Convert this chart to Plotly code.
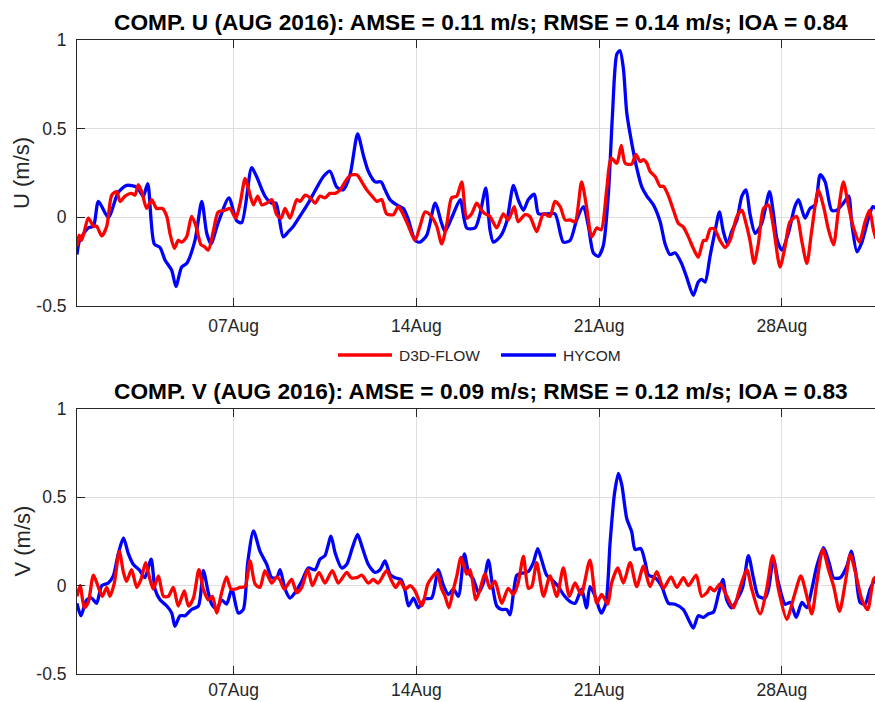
import pandas as pd
import plotly.graph_objects as go

# ---------------- data (day offsets from 2016-08-01 00:00) ----------------
u_hycom_day = [0.0, 0.1, 0.43, 0.63, 0.82, 1.2, 1.58, 1.9, 2.29, 2.54, 2.71, 2.96, 3.18, 3.37, 3.63, 3.79,
               4.01, 4.2, 4.52, 4.78, 4.97, 5.13, 5.41, 5.82, 6.12, 6.31, 6.69, 6.88, 7.2, 7.46, 7.62, 7.9,
               8.1, 8.29, 8.6, 8.86, 9.12, 9.44, 9.69, 9.95, 10.2, 10.46, 10.75, 10.97, 11.16, 11.42, 11.65,
               11.8, 11.99, 12.25, 12.5, 12.7, 12.95, 13.14, 13.4, 13.72, 13.97, 14.1, 14.42, 14.68, 14.93,
               15.25, 15.44, 15.66, 15.82, 15.95, 16.21, 16.46, 16.72, 16.9, 17.1, 17.29, 17.52, 17.68, 18.0,
               18.31, 18.63, 18.89, 19.14, 19.4, 19.59, 19.78, 19.97, 20.16, 20.36, 20.51, 20.68, 20.8, 20.93,
               21.06, 21.25, 21.44, 21.64, 21.83, 22.08, 22.34, 22.53, 22.72, 22.91, 23.16, 23.36, 23.61, 23.8,
               23.93, 24.06, 24.25, 24.44, 24.61, 24.76, 24.92, 25.08, 25.28, 25.47, 25.63, 25.78, 25.98, 26.23,
               26.53, 26.68, 26.81, 27.0, 27.25, 27.5, 27.64, 27.89, 28.08, 28.28, 28.47, 28.66, 28.91, 29.1,
               29.36, 29.56, 29.68, 29.88, 30.07, 30.32, 30.49, 30.6]
u_hycom_val = [-0.21, -0.13, -0.06, -0.05, 0.09, 0.0, 0.14, 0.18, 0.17, 0.12, 0.19, -0.15, -0.17, -0.24, -0.30, -0.39,
               -0.28, -0.26, -0.13, 0.09, -0.09, -0.15, -0.03, 0.11, -0.02, -0.03, 0.28, 0.23, 0.12, 0.08, 0.08, -0.11,
               -0.08, -0.05, 0.02, 0.08, 0.15, 0.23, 0.26, 0.17, 0.155, 0.24, 0.47, 0.35, 0.26, 0.20, 0.20,
               0.155, 0.10, 0.07, 0.05, -0.015, -0.13, -0.14, -0.10, 0.08, -0.035, -0.08, 0.02, 0.10, -0.06,
               -0.06, 0.02, 0.165, -0.07, -0.14, -0.11, -0.025, 0.18, 0.10, 0.04, 0.10, 0.13, 0.02, 0.02,
               0.02, -0.14, -0.13, -0.015, 0.06, -0.05, -0.20, -0.22, -0.16, 0.14, 0.57, 0.92, 0.94, 0.84,
               0.59, 0.42, 0.28, 0.17, 0.12, 0.07, -0.025, -0.15, -0.21, -0.20, -0.26, -0.34, -0.44, -0.365,
               -0.35, -0.365, -0.22, -0.08, 0.03, -0.08, -0.15, -0.08, -0.015, 0.12, 0.155, 0.02, -0.09, -0.035,
               0.145, 0.02, -0.12, -0.185, -0.09, 0.06, 0.10, -0.005, 0.05, 0.07, 0.24, 0.20, 0.04, 0.04,
               0.08, 0.12, -0.035, -0.195, -0.14, -0.005, 0.06, 0.05]

u_d3d_day = [0.0, 0.08, 0.18, 0.43, 0.63, 0.75, 0.95, 1.14, 1.33, 1.52, 1.65, 1.84, 2.09, 2.22, 2.35, 2.48,
             2.67, 2.86, 3.05, 3.27, 3.44, 3.56, 3.73, 3.88, 4.01, 4.2, 4.39, 4.55, 4.75, 4.88, 5.03, 5.22,
             5.41, 5.67, 5.86, 6.08, 6.25, 6.44, 6.56, 6.76, 6.92, 7.08, 7.27, 7.46, 7.65, 7.82, 7.97, 8.16,
             8.42, 8.55, 8.74, 8.93, 9.12, 9.31, 9.5, 9.69, 9.89, 10.08, 10.27, 10.46, 10.72, 10.91, 11.1,
             11.3, 11.49, 11.67, 11.86, 12.12, 12.31, 12.5, 12.7, 12.95, 13.14, 13.33, 13.52, 13.78, 13.97,
             14.17, 14.35, 14.55, 14.74, 14.93, 15.12, 15.31, 15.5, 15.63, 15.82, 16.08, 16.33, 16.52, 16.75,
             16.9, 17.16, 17.35, 17.61, 17.87, 18.12, 18.31, 18.51, 18.7, 18.89, 19.08, 19.33, 19.52, 19.72,
             19.91, 20.08, 20.29, 20.46, 20.68, 20.85, 21.0, 21.25, 21.41, 21.57, 21.7, 21.83, 21.95, 22.15,
             22.34, 22.47, 22.66, 22.85, 23.04, 23.23, 23.42, 23.61, 23.8, 24.0, 24.1, 24.26, 24.42, 24.63,
             24.83, 25.02, 25.28, 25.47, 25.63, 25.78, 25.94, 26.1, 26.3, 26.49, 26.68, 26.93, 27.12, 27.31,
             27.57, 27.76, 27.96, 28.15, 28.4, 28.6, 28.79, 28.98, 29.17, 29.36, 29.56, 29.74, 29.97, 30.19,
             30.36, 30.51, 30.6]
u_d3d_val = [-0.165, -0.10, -0.13, -0.005, -0.05, -0.05, -0.105, -0.05, 0.125, 0.145, 0.09, 0.12, 0.135, 0.125, 0.185, 0.145,
             0.05, 0.10, 0.05, 0.05, 0.005, -0.09, -0.175, -0.13, -0.14, -0.11, 0.005, -0.045, -0.155, -0.165, -0.185, -0.08,
             0.03, 0.04, 0.05, -0.005, 0.08, 0.22, 0.165, 0.07, 0.12, 0.07, 0.08, 0.10, 0.015, -0.005, 0.05, -0.005,
             0.10, 0.09, 0.125, 0.11, 0.08, 0.12, 0.11, 0.135, 0.135, 0.155, 0.20, 0.235, 0.24, 0.20, 0.155,
             0.12, 0.09, 0.10, 0.02, 0.015, 0.06, 0.015, -0.05, -0.13, -0.05, 0.03, 0.015, -0.05, -0.15,
             -0.035, 0.11, 0.12, 0.20, -0.005, 0.02, 0.08, 0.04, 0.02, 0.005, -0.06, 0.02, -0.015, 0.06,
             -0.025, 0.015, 0.005, -0.08, 0.02, 0.005, 0.09, 0.06, -0.015, -0.015, -0.025, 0.20, 0.06, -0.11,
             -0.06, -0.07, 0.155, 0.335, 0.305, 0.405, 0.305, 0.30, 0.355, 0.315, 0.325, 0.305, 0.26, 0.23,
             0.175, 0.175, 0.12, 0.04, -0.035, -0.055, -0.11, -0.175, -0.225, -0.13, -0.13, -0.065, -0.065, -0.13,
             -0.17, -0.13, 0.005, 0.04, -0.035, -0.13, -0.26, -0.15, 0.05, 0.07, -0.055, -0.28, -0.17, -0.025,
             0.005, -0.13, -0.26, -0.07, 0.155, 0.06, -0.07, -0.155, 0.04, 0.20, 0.06, -0.055, -0.14, -0.025,
             0.04, -0.07, -0.12]

v_hycom_day = [0.0, 0.15, 0.37, 0.56, 0.75, 0.95, 1.2, 1.39, 1.58, 1.78, 1.97, 2.16, 2.41, 2.6, 2.84, 2.99,
               3.18, 3.44, 3.63, 3.75, 3.95, 4.14, 4.39, 4.65, 4.84, 5.03, 5.16, 5.35, 5.54, 5.73, 5.93, 6.18,
               6.37, 6.54, 6.76, 7.01, 7.27, 7.46, 7.65, 7.78, 7.97, 8.16, 8.35, 8.61, 8.86, 9.12, 9.31, 9.5,
               9.73, 9.89, 10.14, 10.33, 10.55, 10.75, 10.93, 11.16, 11.42, 11.61, 11.8, 11.99, 12.18, 12.41,
               12.57, 12.7, 12.89, 13.08, 13.33, 13.59, 13.84, 14.04, 14.23, 14.42, 14.61, 14.84, 15.0, 15.19,
               15.38, 15.57, 15.76, 15.92, 16.08, 16.27, 16.46, 16.59, 16.72, 16.85, 17.04, 17.29, 17.48, 17.65,
               17.8, 17.99, 18.18, 18.44, 18.63, 18.89, 19.08, 19.33, 19.52, 19.65, 19.85, 20.08, 20.26, 20.42,
               20.59, 20.74, 20.87, 21.06, 21.25, 21.38, 21.6, 21.77, 21.89, 22.15, 22.4, 22.66, 22.91, 23.23,
               23.42, 23.61, 23.8, 23.99, 24.18, 24.38, 24.57, 24.74, 24.89, 25.08, 25.28, 25.5, 25.72, 25.91,
               26.1, 26.36, 26.49, 26.68, 26.87, 27.13, 27.32, 27.55, 27.77, 27.96, 28.15, 28.34, 28.6, 28.83,
               28.98, 29.24, 29.49, 29.66, 29.82, 30.0, 30.19, 30.38, 30.6]
v_hycom_val = [-0.10, -0.17, -0.08, -0.07, -0.10, 0.0, 0.015, 0.055, 0.18, 0.27, 0.18, 0.12, 0.085, 0.045, 0.15, -0.02,
               -0.08, -0.115, -0.155, -0.23, -0.17, -0.17, -0.135, -0.115, 0.085, -0.04, -0.105, -0.135, -0.08, -0.105, -0.02, -0.155,
               -0.135, 0.13, 0.31, 0.195, 0.12, 0.045, 0.045, 0.09, -0.02, -0.07, -0.04, 0.025, 0.10, 0.09, 0.15, 0.17,
               0.28, 0.185, 0.10, 0.12, 0.215, 0.29, 0.215, 0.12, 0.075, 0.09, 0.14, 0.065, 0.045, 0.035,
               -0.03, -0.115, -0.07, -0.125, -0.075, -0.07, 0.09, 0.0, -0.05, -0.02, -0.06, 0.18, 0.075, 0.035,
               -0.04, 0.015, 0.145, -0.005, -0.115, -0.135, -0.135, -0.165, -0.04, 0.06, 0.07, 0.08, 0.13, 0.21,
               0.145, 0.06, 0.035, -0.005, -0.05, -0.09, -0.10, -0.02, -0.125, -0.005, -0.06, -0.155, -0.10, 0.24,
               0.52, 0.635, 0.57, 0.38, 0.305, 0.205, 0.21, 0.13, 0.06, 0.045, -0.005, -0.10, -0.105, -0.135,
               -0.19, -0.24, -0.17, -0.18, -0.16, -0.15, -0.05, 0.035, -0.08, -0.125, -0.08, -0.01, 0.17, 0.045,
               -0.06, -0.07, -0.02, 0.15, 0.015, -0.105, -0.095, -0.18, -0.095, -0.125, -0.02, 0.11, 0.215, 0.12,
               0.045, 0.045, 0.11, 0.195, 0.085, -0.095, -0.105, -0.02, 0.045]

v_d3d_day = [0.0, 0.12, 0.28, 0.43, 0.63, 0.82, 0.97, 1.14, 1.26, 1.43, 1.62, 1.78, 1.9, 2.09, 2.29, 2.45,
             2.63, 2.76, 2.92, 3.12, 3.31, 3.5, 3.69, 3.88, 4.11, 4.27, 4.46, 4.67, 4.84, 5.03, 5.19, 5.35,
             5.54, 5.73, 5.9, 6.05, 6.25, 6.44, 6.63, 6.82, 7.01, 7.2, 7.46, 7.65, 7.78, 7.94, 8.22, 8.42,
             8.61, 8.84, 9.02, 9.27, 9.5, 9.78, 10.01, 10.33, 10.5, 10.71, 10.91, 11.16, 11.35, 11.54, 11.86,
             12.06, 12.21, 12.38, 12.57, 12.76, 12.95, 13.21, 13.44, 13.59, 13.78, 13.97, 14.1, 14.25, 14.42,
             14.55, 14.71, 14.93, 15.06, 15.28, 15.44, 15.63, 15.82, 16.01, 16.27, 16.52, 16.72, 16.9, 17.1,
             17.29, 17.42, 17.61, 17.87, 18.12, 18.38, 18.63, 18.86, 19.08, 19.31, 19.65, 19.91, 20.1, 20.33,
             20.48, 20.72, 20.93, 21.19, 21.44, 21.7, 21.95, 22.21, 22.47, 22.75, 22.98, 23.23, 23.42, 23.72,
             23.93, 24.13, 24.25, 24.41, 24.64, 24.83, 25.15, 25.38, 25.66, 25.85, 26.17, 26.42, 26.65, 26.87,
             27.19, 27.47, 27.73, 27.96, 28.15, 28.34, 28.57, 28.79, 28.98, 29.21, 29.43, 29.62, 29.82, 30.07,
             30.29, 30.51, 30.6]
v_d3d_val = [-0.06, 0.0, -0.125, -0.095, 0.06, -0.01, -0.06, -0.01, -0.06, 0.015, 0.195, 0.075, 0.025, 0.09, -0.01, 0.035,
             0.13, 0.055, -0.02, 0.055, -0.06, -0.06, -0.01, -0.115, -0.03, -0.115, -0.07, 0.09, -0.02, -0.08, -0.06, -0.155,
             -0.04, 0.05, -0.02, -0.02, -0.01, -0.005, 0.14, 0.01, -0.01, 0.085, 0.015, 0.05, 0.03, -0.02, 0.035, -0.04,
             -0.01, 0.09, 0.0, 0.075, 0.015, 0.085, 0.015, 0.075, 0.045, 0.045, 0.06, 0.015, 0.035, 0.015, 0.085,
             0.025, -0.01, 0.025, -0.02, 0.0, -0.03, -0.115, 0.01, 0.045, 0.075, -0.02, -0.06, -0.125, -0.02,
             0.055, 0.16, 0.065, 0.09, -0.08, -0.02, 0.07, -0.015, 0.025, -0.10, -0.015, -0.05, 0.015, 0.165,
             -0.015, -0.005, 0.13, -0.06, 0.055, -0.06, 0.10, -0.06, 0.015, -0.05, 0.145, -0.10, -0.05, -0.105,
             0.015, 0.10, 0.015, 0.13, -0.005, 0.11, -0.005, 0.08, -0.015, 0.05, -0.01, 0.045, 0.0, 0.06,
             -0.06, -0.04, -0.01, -0.03, 0.01, -0.04, -0.125, -0.02, 0.09, -0.02, -0.16, -0.02, 0.17, -0.02,
             -0.19, -0.06, 0.055, -0.06, -0.16, 0.015, 0.205, 0.09, 0.0, -0.145, 0.015, 0.175, 0.075, -0.08,
             -0.135, 0.035, 0.05]

x_tick_dates = ["2016-08-07", "2016-08-14", "2016-08-21", "2016-08-28"]
x_tick_labels = ["07Aug", "14Aug", "21Aug", "28Aug"]
y_tick_vals = [-0.5, 0, 0.5, 1]
y_tick_labels = ["-0.5", "0", "0.5", "1"]
legend_names = ["D3D-FLOW", "HYCOM"]

title_u = "COMP. U (AUG 2016): AMSE = 0.11 m/s; RMSE = 0.14 m/s; IOA = 0.84"
title_v = "COMP. V (AUG 2016): AMSE = 0.09 m/s; RMSE = 0.12 m/s; IOA = 0.83"

# ---------------- figure ----------------
base = pd.Timestamp("2016-08-01")


def to_time(days):
    return base + pd.to_timedelta(days, unit="D")


x_end = base + pd.to_timedelta(30.57, unit="D")
FONT = "Liberation Sans, Arial, sans-serif"
RED = "#ff0000"
BLUE = "#0000ff"
LW = 3.3

fig = go.Figure()
fig.add_trace(go.Scatter(x=to_time(u_hycom_day), y=u_hycom_val, mode="lines", name=legend_names[1],
                         line=dict(color=BLUE, width=LW, shape="spline", smoothing=0.7),
                         xaxis="x", yaxis="y", showlegend=False))
fig.add_trace(go.Scatter(x=to_time(u_d3d_day), y=u_d3d_val, mode="lines", name=legend_names[0],
                         line=dict(color=RED, width=LW, shape="spline", smoothing=0.7),
                         xaxis="x", yaxis="y", showlegend=False))
fig.add_trace(go.Scatter(x=to_time(v_hycom_day), y=v_hycom_val, mode="lines", name=legend_names[1],
                         line=dict(color=BLUE, width=LW, shape="spline", smoothing=0.7),
                         xaxis="x2", yaxis="y2", showlegend=False))
fig.add_trace(go.Scatter(x=to_time(v_d3d_day), y=v_d3d_val, mode="lines", name=legend_names[0],
                         line=dict(color=RED, width=LW, shape="spline", smoothing=0.7),
                         xaxis="x2", yaxis="y2", showlegend=False))

H = 702.0
PW = 798.0
AX_COLOR = "#262626"
GRID = "#dedede"

xcommon = dict(range=[base, x_end], tickmode="array", tickvals=x_tick_dates, ticktext=x_tick_labels,
               showgrid=True, gridcolor=GRID, gridwidth=1, showline=True, linecolor=AX_COLOR, linewidth=1,
               mirror="ticks", ticks="inside", ticklen=8, tickcolor=AX_COLOR, zeroline=False,
               tickfont=dict(family=FONT, size=17.5, color=AX_COLOR),
               automargin=False, domain=[0, 1])
ycommon = dict(range=[-0.5, 1], tickmode="array", tickvals=y_tick_vals, ticktext=y_tick_labels,
               showgrid=True, gridcolor=GRID, gridwidth=1, showline=True, linecolor=AX_COLOR, linewidth=1,
               mirror=False, ticks="inside", ticklen=8, tickcolor=AX_COLOR, zeroline=False,
               tickfont=dict(family=FONT, size=17.5, color=AX_COLOR), ticklabelstandoff=6,
               automargin=False)

fig.update_layout(
    width=875, height=702,
    margin=dict(l=77, r=0, t=0, b=0),
    paper_bgcolor="white", plot_bgcolor="white",
    xaxis=dict(anchor="y", ticklabelstandoff=4, **xcommon),
    yaxis=dict(anchor="x", domain=[1 - 306 / H, 1 - 40 / H], **ycommon),
    xaxis2=dict(anchor="y2", ticklabelstandoff=0, **xcommon),
    yaxis2=dict(anchor="x2", domain=[1 - 674 / H, 1 - 409 / H], **ycommon),
    showlegend=False,
    font=dict(family=FONT),
)

# legend (MATLAB style, drawn as shapes + text)
leg_y = 1 - 355 / H
for (x0, x1, tx), col, name in [((338, 392, 397), RED, legend_names[0]), ((501, 556, 561), BLUE, legend_names[1])]:
    fig.add_shape(type="line", xref="paper", yref="paper", x0=(x0 - 77) / PW, x1=(x1 - 77) / PW,
                  y0=leg_y, y1=leg_y, line=dict(color=col, width=LW))
    fig.add_annotation(text=name, x=(tx - 77) / PW, xref="paper", xanchor="left",
                       y=leg_y, yref="paper", yanchor="middle", showarrow=False,
                       font=dict(family=FONT, size=15.5, color=AX_COLOR))

title_x = (481 - 77) / PW
for txt, ypx in [(title_u, 22), (title_v, 391)]:
    fig.add_annotation(text="<b>" + txt + "</b>", x=title_x, xref="paper", xanchor="center",
                       y=1 - ypx / H, yref="paper", yanchor="middle", showarrow=False,
                       font=dict(family=FONT, size=22.7, color="black"))

ylab_x = (22 - 77) / PW
for txt, ypx in [("U (m/s)", 173), ("V (m/s)", 541.5)]:
    fig.add_annotation(text=txt, x=ylab_x, xref="paper", xanchor="center",
                       y=1 - ypx / H, yref="paper", yanchor="middle", showarrow=False, textangle=-90,
                       font=dict(family=FONT, size=22, color=AX_COLOR))

fig.write_html("out.html")
